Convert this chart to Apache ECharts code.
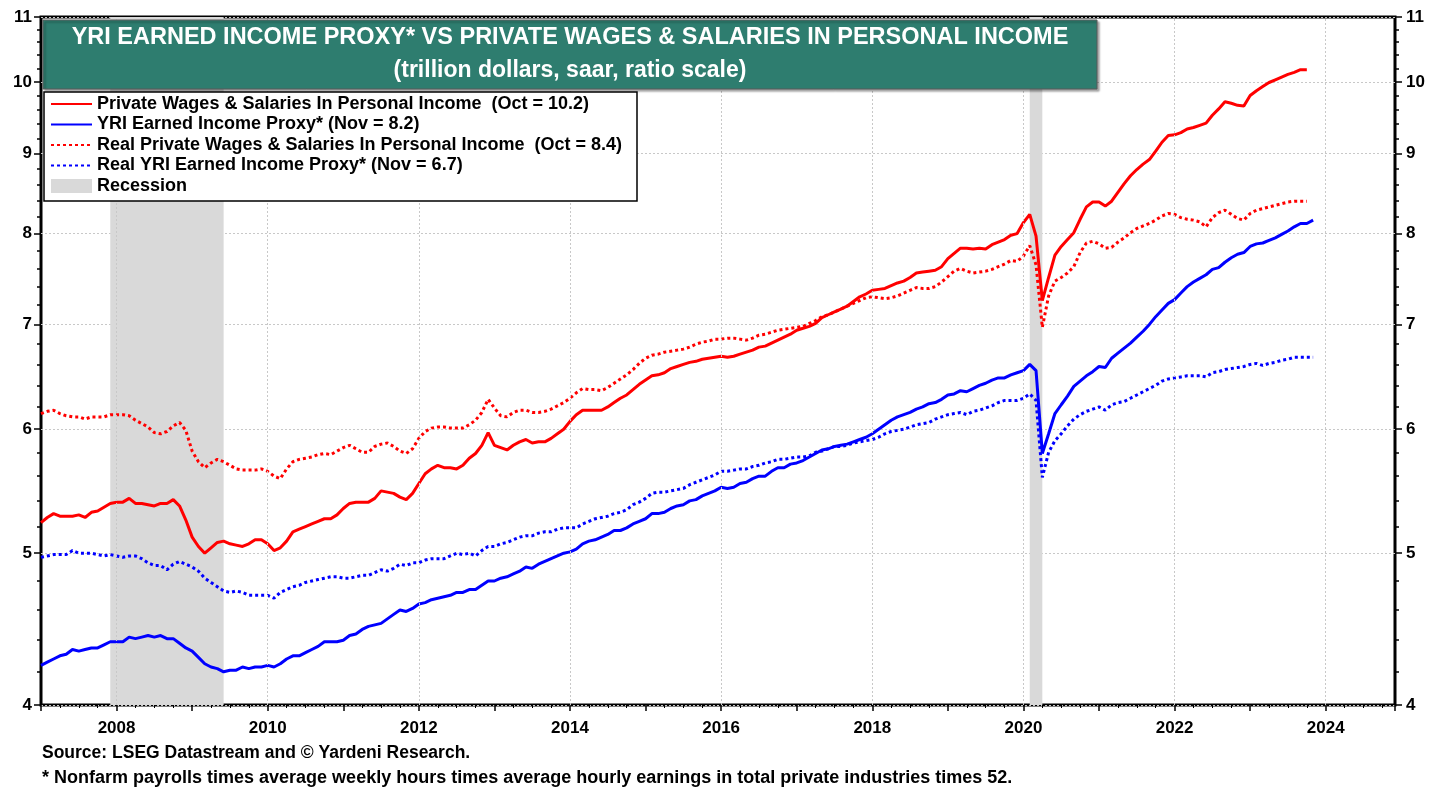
<!DOCTYPE html>
<html>
<head>
<meta charset="utf-8">
<title>YRI Earned Income Proxy vs Private Wages & Salaries</title>
<script src="https://cdn.jsdelivr.net/npm/echarts@6/dist/echarts.min.js"></script>
<style>
  html, body { margin: 0; padding: 0; background: #fff; }
  #chart { width: 1446px; height: 790px; }
</style>
</head>
<body>
<div id="chart"></div>
<script>
// monthly values, first point = Jan 2007 (trillion dollars, saar)
var startYear = 2007;

// Private Wages & Salaries In Personal Income (to Oct 2023)
var wages = [
  5.23, 5.27, 5.30, 5.28, 5.28, 5.28, 5.29, 5.27, 5.31, 5.32, 5.35, 5.38,
  5.39, 5.39, 5.42, 5.38, 5.38, 5.37, 5.36, 5.38, 5.38, 5.41, 5.36, 5.25,
  5.12, 5.05, 5.00, 5.04, 5.08, 5.09, 5.07, 5.06, 5.05, 5.07, 5.10, 5.10,
  5.07, 5.02, 5.04, 5.09, 5.16, 5.18, 5.20, 5.22, 5.24, 5.26, 5.26, 5.29,
  5.34, 5.38, 5.39, 5.39, 5.39, 5.42, 5.48, 5.47, 5.46, 5.43, 5.41, 5.46,
  5.54, 5.62, 5.66, 5.69, 5.67, 5.67, 5.66, 5.69, 5.75, 5.79, 5.86, 5.97,
  5.86, 5.84, 5.82, 5.86, 5.89, 5.91, 5.88, 5.89, 5.89, 5.92, 5.96, 6.00,
  6.07, 6.13, 6.17, 6.17, 6.17, 6.17, 6.20, 6.24, 6.28, 6.31, 6.36, 6.41,
  6.45, 6.49, 6.50, 6.52, 6.56, 6.58, 6.60, 6.62, 6.63, 6.65, 6.66, 6.67,
  6.68, 6.67, 6.68, 6.70, 6.72, 6.74, 6.77, 6.78, 6.81, 6.84, 6.87, 6.90,
  6.94, 6.96, 6.98, 7.01, 7.07, 7.10, 7.13, 7.16, 7.19, 7.24, 7.29, 7.32,
  7.36, 7.37, 7.38, 7.41, 7.44, 7.46, 7.50, 7.55, 7.56, 7.57, 7.58, 7.62,
  7.71, 7.77, 7.83, 7.83, 7.82, 7.83, 7.82, 7.87, 7.90, 7.93, 7.98, 8.00,
  8.13, 8.23, 7.97, 7.25, 7.50, 7.75, 7.85, 7.93, 8.01, 8.17, 8.32, 8.38,
  8.38, 8.33, 8.39, 8.50, 8.61, 8.71, 8.79, 8.86, 8.92, 9.03, 9.15, 9.24,
  9.25, 9.28, 9.33, 9.35, 9.38, 9.41, 9.52, 9.61, 9.71, 9.69, 9.66, 9.65,
  9.80, 9.87, 9.93, 9.99, 10.03, 10.07, 10.11, 10.14, 10.18, 10.18
];

// YRI Earned Income Proxy (to Nov 2023)
var proxy = [
  4.24, 4.26, 4.28, 4.30, 4.31, 4.34, 4.33, 4.34, 4.35, 4.35, 4.37, 4.39,
  4.39, 4.39, 4.42, 4.41, 4.42, 4.43, 4.42, 4.43, 4.41, 4.41, 4.38, 4.35,
  4.33, 4.29, 4.25, 4.23, 4.22, 4.20, 4.21, 4.21, 4.23, 4.22, 4.23, 4.23,
  4.24, 4.23, 4.25, 4.28, 4.30, 4.30, 4.32, 4.34, 4.36, 4.39, 4.39, 4.39,
  4.40, 4.43, 4.44, 4.47, 4.49, 4.50, 4.51, 4.54, 4.57, 4.60, 4.59, 4.61,
  4.64, 4.65, 4.67, 4.68, 4.69, 4.70, 4.72, 4.72, 4.74, 4.74, 4.77, 4.80,
  4.80, 4.82, 4.83, 4.85, 4.87, 4.90, 4.89, 4.92, 4.94, 4.96, 4.98, 5.00,
  5.01, 5.03, 5.07, 5.09, 5.10, 5.12, 5.14, 5.17, 5.17, 5.19, 5.22, 5.24,
  5.26, 5.30, 5.30, 5.31, 5.34, 5.36, 5.37, 5.40, 5.41, 5.44, 5.46, 5.48,
  5.51, 5.50, 5.51, 5.54, 5.55, 5.58, 5.60, 5.60, 5.64, 5.67, 5.67, 5.70,
  5.71, 5.73, 5.76, 5.79, 5.82, 5.83, 5.85, 5.86, 5.87, 5.89, 5.91, 5.93,
  5.96, 6.00, 6.04, 6.08, 6.11, 6.13, 6.15, 6.18, 6.20, 6.23, 6.24, 6.27,
  6.31, 6.32, 6.35, 6.34, 6.37, 6.40, 6.42, 6.45, 6.47, 6.47, 6.50, 6.52,
  6.54, 6.60, 6.54, 5.79, 5.96, 6.14, 6.22, 6.30, 6.39, 6.44, 6.49, 6.53,
  6.58, 6.57, 6.66, 6.71, 6.76, 6.81, 6.87, 6.93, 7.00, 7.08, 7.15, 7.22,
  7.26, 7.33, 7.40, 7.45, 7.49, 7.53, 7.59, 7.61, 7.67, 7.72, 7.76, 7.78,
  7.85, 7.88, 7.89, 7.92, 7.95, 7.99, 8.03, 8.08, 8.12, 8.12, 8.16
];

// Real Private Wages & Salaries In Personal Income (to Oct 2023)
var realWages = [
  6.14, 6.16, 6.17, 6.14, 6.12, 6.11, 6.11, 6.09, 6.11, 6.11, 6.11, 6.13,
  6.13, 6.13, 6.12, 6.08, 6.05, 6.02, 5.97, 5.96, 5.98, 6.03, 6.06, 5.99,
  5.81, 5.72, 5.67, 5.71, 5.74, 5.72, 5.69, 5.66, 5.65, 5.65, 5.65, 5.66,
  5.64, 5.60, 5.58, 5.66, 5.72, 5.74, 5.75, 5.76, 5.78, 5.79, 5.78, 5.81,
  5.84, 5.86, 5.83, 5.80, 5.80, 5.85, 5.87, 5.88, 5.85, 5.81, 5.79, 5.83,
  5.92, 5.98, 6.01, 6.02, 6.02, 6.01, 6.01, 6.01, 6.04, 6.08, 6.15, 6.27,
  6.19, 6.12, 6.11, 6.15, 6.17, 6.17, 6.15, 6.15, 6.16, 6.18, 6.21, 6.24,
  6.28, 6.33, 6.37, 6.36, 6.36, 6.35, 6.38, 6.42, 6.46, 6.50, 6.55, 6.61,
  6.66, 6.69, 6.70, 6.72, 6.73, 6.74, 6.75, 6.77, 6.80, 6.82, 6.83, 6.85,
  6.85, 6.86, 6.86, 6.85, 6.84, 6.86, 6.89, 6.90, 6.92, 6.94, 6.95, 6.96,
  6.97, 6.98, 7.01, 7.04, 7.08, 7.10, 7.13, 7.16, 7.19, 7.22, 7.25, 7.28,
  7.29, 7.28, 7.27, 7.28, 7.30, 7.33, 7.36, 7.39, 7.38, 7.38, 7.40, 7.45,
  7.51, 7.57, 7.60, 7.57, 7.55, 7.56, 7.57, 7.59, 7.62, 7.65, 7.69, 7.68,
  7.74, 7.86, 7.64, 6.97, 7.30, 7.46, 7.50, 7.55, 7.62, 7.78, 7.89, 7.91,
  7.88, 7.83, 7.84, 7.90, 7.95, 8.01, 8.06, 8.09, 8.12, 8.16, 8.21, 8.24,
  8.23, 8.19, 8.17, 8.16, 8.14, 8.08, 8.19, 8.25, 8.28, 8.23, 8.18, 8.16,
  8.24, 8.28, 8.30, 8.32, 8.34, 8.36, 8.38, 8.39, 8.39, 8.39
];

// Real YRI Earned Income Proxy (to Nov 2023)
var realProxy = [
  4.97, 4.98, 4.99, 4.99, 4.99, 5.02, 5.00, 5.00, 5.00, 4.99, 4.98, 4.99,
  4.98, 4.97, 4.98, 4.98, 4.96, 4.93, 4.91, 4.91, 4.88, 4.92, 4.94, 4.92,
  4.90, 4.87, 4.82, 4.79, 4.76, 4.73, 4.72, 4.73, 4.72, 4.70, 4.70, 4.70,
  4.70, 4.68, 4.72, 4.74, 4.76, 4.77, 4.79, 4.80, 4.81, 4.82, 4.83, 4.83,
  4.82, 4.82, 4.83, 4.84, 4.84, 4.86, 4.88, 4.87, 4.89, 4.92, 4.91, 4.93,
  4.93, 4.95, 4.96, 4.96, 4.96, 4.98, 5.00, 4.99, 5.00, 4.98, 5.02, 5.05,
  5.05, 5.07, 5.08, 5.10, 5.12, 5.13, 5.13, 5.15, 5.16, 5.16, 5.18, 5.19,
  5.19, 5.19, 5.22, 5.24, 5.26, 5.27, 5.28, 5.30, 5.31, 5.33, 5.37, 5.39,
  5.42, 5.46, 5.47, 5.47, 5.48, 5.49, 5.50, 5.53, 5.55, 5.57, 5.59, 5.61,
  5.64, 5.64, 5.65, 5.66, 5.66, 5.68, 5.69, 5.71, 5.72, 5.74, 5.74, 5.75,
  5.76, 5.76, 5.77, 5.80, 5.81, 5.83, 5.85, 5.85, 5.86, 5.88, 5.89, 5.90,
  5.91, 5.93, 5.96, 5.98, 5.99, 6.00, 6.02, 6.04, 6.05, 6.06, 6.09, 6.11,
  6.13, 6.14, 6.15, 6.13, 6.16, 6.17, 6.19, 6.21, 6.24, 6.26, 6.26, 6.26,
  6.28, 6.32, 6.26, 5.59, 5.80, 5.90, 5.96, 6.03, 6.09, 6.13, 6.16, 6.18,
  6.20, 6.17, 6.22, 6.24, 6.25, 6.28, 6.31, 6.34, 6.37, 6.40, 6.44, 6.46,
  6.47, 6.48, 6.49, 6.49, 6.49, 6.48, 6.52, 6.53, 6.55, 6.56, 6.57, 6.58,
  6.60, 6.61, 6.59, 6.61, 6.62, 6.64, 6.65, 6.67, 6.67, 6.67, 6.67
];

// recessions (decimal years): Dec 2007 - Jun 2009, Feb 2020 - Apr 2020
var recessionStart = [2007 + 11 / 12, 2020 + 1 / 12];
var recessionEnd = [2009 + 5 / 12, 2020 + 3 / 12];

var yTicks = [4, 5, 6, 7, 8, 9, 10, 11];
var xTicks = [2008, 2010, 2012, 2014, 2016, 2018, 2020, 2022, 2024];

var names = [
  'Private Wages & Salaries In Personal Income  (Oct = 10.2)',
  'YRI Earned Income Proxy* (Nov = 8.2)',
  'Real Private Wages & Salaries In Personal Income  (Oct = 8.4)',
  'Real YRI Earned Income Proxy* (Nov = 6.7)',
  'Recession'
];

var FONT = '"Liberation Sans", Arial, Helvetica, sans-serif';
var GRID_LINE = { color: '#c8c8c8', type: [2, 2], width: 1 };

// ratio scale: plot log10 of the values on a linear axis
function toPoints(arr) {
  return arr.map(function (v, i) {
    return [startYear + i / 12, Math.log10(v)];
  });
}
var lg = function (v) { return Math.log10(v); };

// minor ticks every 0.2 on the ratio scale
var yMinor = [];
for (var k = 4; k < 11; k++) {
  for (var s = 1; s < 5; s++) yMinor.push(lg(k + s * 0.2));
}

var yMin = lg(4), yMax = lg(11);
var labelFmt = function (v) { return String(Math.round(Math.pow(10, v))); };

function yAxisDef(pos, major) {
  return {
    type: 'value', position: pos, min: yMin, max: yMax, gridIndex: 0,
    axisLine: { show: false },
    axisTick: {
      show: true, customValues: major ? yTicks.map(lg) : yMinor,
      length: major ? 7 : 4, lineStyle: { color: '#000', width: 1.5 }
    },
    axisLabel: {
      show: major, customValues: yTicks.map(lg), formatter: labelFmt,
      margin: pos === 'left' ? 9 : 11,
      color: '#000', fontFamily: FONT, fontWeight: 'bold', fontSize: 17
    },
    splitLine: { show: major && pos === 'left', lineStyle: GRID_LINE }
  };
}

var chart = echarts.init(document.getElementById('chart'));

var lineItem = function (name) {
  return { name: name, itemStyle: { opacity: 0 } };
};

var option = {
  animation: false,
  backgroundColor: '#fff',
  grid: {
    left: 41, right: 51, top: 17, bottom: 85,
    show: true, borderColor: '#000', borderWidth: 3, backgroundColor: 'transparent'
  },
  xAxis: {
    type: 'value', min: 2007, max: 2024 + 11 / 12, interval: 1,
    axisLine: { show: false },
    axisTick: { show: true, length: 6, lineStyle: { color: '#000', width: 1.5 } },
    minorTick: { show: true, splitNumber: 4, length: 3, lineStyle: { color: '#000', width: 1 } },
    axisLabel: {
      customValues: xTicks, margin: 15, color: '#000',
      formatter: function (v) { return String(v); },
      fontFamily: FONT, fontWeight: 'bold', fontSize: 17
    },
    splitLine: { show: false }
  },
  yAxis: [
    yAxisDef('left', true),
    yAxisDef('right', true),
    yAxisDef('left', false),
    yAxisDef('right', false)
  ],
  legend: {
    orient: 'vertical', left: 50, top: 94, z: 20, padding: 0,
    itemWidth: 41, itemHeight: 14, itemGap: 0.5,
    selectedMode: false,
    textStyle: { color: '#000', fontFamily: FONT, fontWeight: 'bold', fontSize: 18, lineHeight: 20 },
    data: [
      lineItem(names[0]), lineItem(names[1]), lineItem(names[2]), lineItem(names[3]),
      { name: names[4], icon: 'rect' }
    ]
  },
  series: [
    {
      name: names[4], type: 'bar', data: [], z: 1,
      itemStyle: { color: '#d9d9d9' },
      markArea: {
        silent: true,
        itemStyle: { color: '#d9d9d9' },
        data: recessionStart.map(function (s, i) {
          return [{ xAxis: s }, { xAxis: recessionEnd[i] }];
        })
      },
      // vertical grid lines on even years
      markLine: {
        silent: true, symbol: ['none', 'none'],
        label: { show: false },
        lineStyle: GRID_LINE,
        data: xTicks.map(function (x) { return { xAxis: x }; })
      }
    },
    {
      name: names[2], type: 'line', data: toPoints(realWages), z: 3,
      symbol: 'none', color: '#ff0000',
      lineStyle: { color: '#ff0000', width: 3, type: [3, 3] }
    },
    {
      name: names[3], type: 'line', data: toPoints(realProxy), z: 3,
      symbol: 'none', color: '#0000ff',
      lineStyle: { color: '#0000ff', width: 3, type: [3, 3] }
    },
    {
      name: names[0], type: 'line', data: toPoints(wages), z: 4,
      symbol: 'none', color: '#ff0000',
      lineStyle: { color: '#ff0000', width: 3 }
    },
    {
      name: names[1], type: 'line', data: toPoints(proxy), z: 4,
      symbol: 'none', color: '#0000ff',
      lineStyle: { color: '#0000ff', width: 3 }
    }
  ],
  graphic: [
    {
      type: 'rect', z: 10, shape: { x: 43, y: 20, width: 1054, height: 69 },
      style: { fill: '#2e7d6f', stroke: '#5a5a5a', lineWidth: 1,
               shadowColor: 'rgba(0,0,0,0.35)', shadowOffsetX: 2, shadowOffsetY: 2, shadowBlur: 2 }
    },
    {
      type: 'text', z: 11, x: 570, y: 38,
      style: { text: 'YRI EARNED INCOME PROXY* VS PRIVATE WAGES & SALARIES IN PERSONAL INCOME',
               fill: '#fff', font: 'bold 23.5px ' + FONT, textAlign: 'center', textVerticalAlign: 'middle' }
    },
    {
      type: 'text', z: 11, x: 570, y: 71,
      style: { text: '(trillion dollars, saar, ratio scale)',
               fill: '#fff', font: 'bold 23px ' + FONT, textAlign: 'center', textVerticalAlign: 'middle' }
    },
    {
      type: 'rect', z: 10, shape: { x: 44, y: 92, width: 593, height: 109 },
      style: { fill: '#fff', stroke: '#000', lineWidth: 1.5 }
    },
    {
      type: 'text', z: 11, left: 42, top: 744,
      style: { text: 'Source: LSEG Datastream and © Yardeni Research.',
               fill: '#000', font: 'bold 17.5px ' + FONT }
    },
    {
      type: 'text', z: 11, left: 42, top: 769,
      style: { text: '* Nonfarm payrolls times average weekly hours times average hourly earnings in total private industries times 52.',
               fill: '#000', font: 'bold 18px ' + FONT }
    }
  ]
};

chart.setOption(option);
</script>
</body>
</html>
